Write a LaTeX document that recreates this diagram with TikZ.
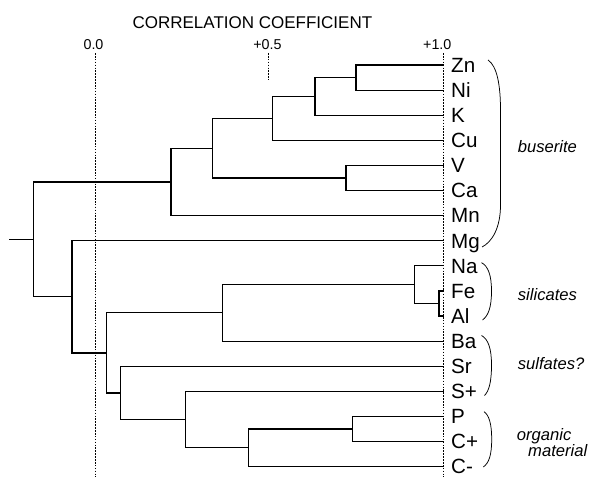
\documentclass[tikz,border=0pt]{standalone}
\usepackage{fontspec}
\setmainfont{Liberation Sans}
\begin{document}
\begin{tikzpicture}[x=1pt,y=-1pt,
  tree/.style={line width=1.2pt, line join=miter},
  guide/.style={line width=0.6pt, dash pattern=on 1.6pt off 1.3pt},
  brk/.style={line width=0.75pt},
  leaf/.style={anchor=base west, font=\fontsize{20.6}{20.6}\selectfont, inner sep=0pt},
  grp/.style={anchor=base west, font=\fontsize{16.6}{16.6}\selectfont\itshape, inner sep=0pt},
  tick/.style={anchor=base, font=\fontsize{14.3}{14.3}\selectfont, inner sep=0pt},
  ttl/.style={anchor=base, font=\fontsize{17}{17}\selectfont, inner sep=0pt}]
\useasboundingbox (0,0) rectangle (591,477);

% title and scale
\node[ttl] (title) at (252.4,28.3) {CORRELATION COEFFICIENT};
\node[tick] (t0) at (93.5,49.3) {0.0};
\node[tick] (t5) at (267.5,49.3) {+0.5};
\node[tick] (t1) at (437.3,49.3) {+1.0};
\coordinate (g0a) at (94.8,53);  \coordinate (g0b) at (94.8,477);
\coordinate (g5a) at (268.3,53); \coordinate (g5b) at (268.3,80);
\coordinate (g1a) at (443.5,53); \coordinate (g1b) at (443.5,477);
\draw[guide] (g0a) -- (g0b);
\draw[guide] (g5a) -- (g5b);
\draw[guide] (g1a) -- (g1b);

% leaves
\foreach \n/\t/\i in {Zn/Zn/0, Ni/Ni/1, K/K/2, Cu/Cu/3, V/V/4, Ca/Ca/5, Mn/Mn/6, Mg/Mg/7, Na/Na/8, Fe/Fe/9, Al/Al/10, Ba/Ba/11, Sr/Sr/12, Sp/S+/13, P/P/14, Cp/C+/15, Cm/C-/16}{
  \pgfmathsetmacro\yy{65+25.1*\i}
  \coordinate (e\n) at (443.5,\yy);
  \node[leaf] (l\n) at (451,\yy+7.3) {\t};
}

% joins
\coordinate (a) at (356,77.55);
\coordinate (b) at (315,96.4);
\coordinate (c) at (272.3,118.35);
\coordinate (d) at (346,177.95);
\coordinate (e) at (212.3,148.15);
\coordinate (f) at (171,181.9);
\coordinate (g) at (439,303.45);
\coordinate (h) at (414.3,284.6);
\coordinate (i) at (222.3,312.85);
\coordinate (j) at (352.7,428.95);
\coordinate (k) at (248.7,447.8);
\coordinate (l) at (185.3,419.55);
\coordinate (m) at (120.7,392.9);
\coordinate (n) at (106.7,352.9);
\coordinate (o) at (72,296.8);
\coordinate (r) at (33.3,239.35);
\coordinate (stub) at (9.3,239.35);

\draw[tree] (eZn) -| (a) |- (eNi);
\draw[tree] (a) -| (b) |- (eK);
\draw[tree] (b) -| (c) |- (eCu);
\draw[tree] (eV) -| (d) |- (eCa);
\draw[tree] (c) -| (e) |- (d);
\draw[tree] (e) -| (f) |- (eMn);
\draw[tree] (eFe) -| (g) |- (eAl);
\draw[tree] (eNa) -| (h) |- (g);
\draw[tree] (h) -| (i) |- (eBa);
\draw[tree] (eP) -| (j) |- (eCp);
\draw[tree] (j) -| (k) |- (eCm);
\draw[tree] (eSp) -| (l) |- (k);
\draw[tree] (eSr) -| (m) |- (l);
\draw[tree] (i) -| (n) |- (m);
\draw[tree] (eMg) -| (o) |- (n);
\draw[tree] (f) -| (r) |- (o);
\draw[tree] (r) -- (stub);

% brackets
\draw[brk] (488,60) .. controls (497,66) and (500.5,85) .. (500.5,110) -- (500.5,205) .. controls (500.5,228) and (492,242) .. (482,247);
\draw[brk] (481.5,262.7) .. controls (488,266) and (491.5,275) .. (491.5,291) .. controls (491.5,308) and (488,316) .. (482.5,320);
\draw[brk] (481.5,335.5) .. controls (488,339) and (491.5,348) .. (491.5,365) .. controls (491.5,382) and (489,391) .. (484.5,395.5);
\draw[brk] (484,411.7) .. controls (489,415) and (491.7,424) .. (491.7,439) .. controls (491.7,455) and (489,463) .. (483.3,467);

% group labels
\node[grp] (gb) at (517.7,152.3) {buserite};
\node[grp] (gs) at (517.7,300.7) {silicates};
\node[grp] (gf) at (517.7,369) {sulfates?};
\node[grp] (go) at (516.7,440) {organic};
\node[grp] (gm) at (528,456) {material};
\end{tikzpicture}
\end{document}
